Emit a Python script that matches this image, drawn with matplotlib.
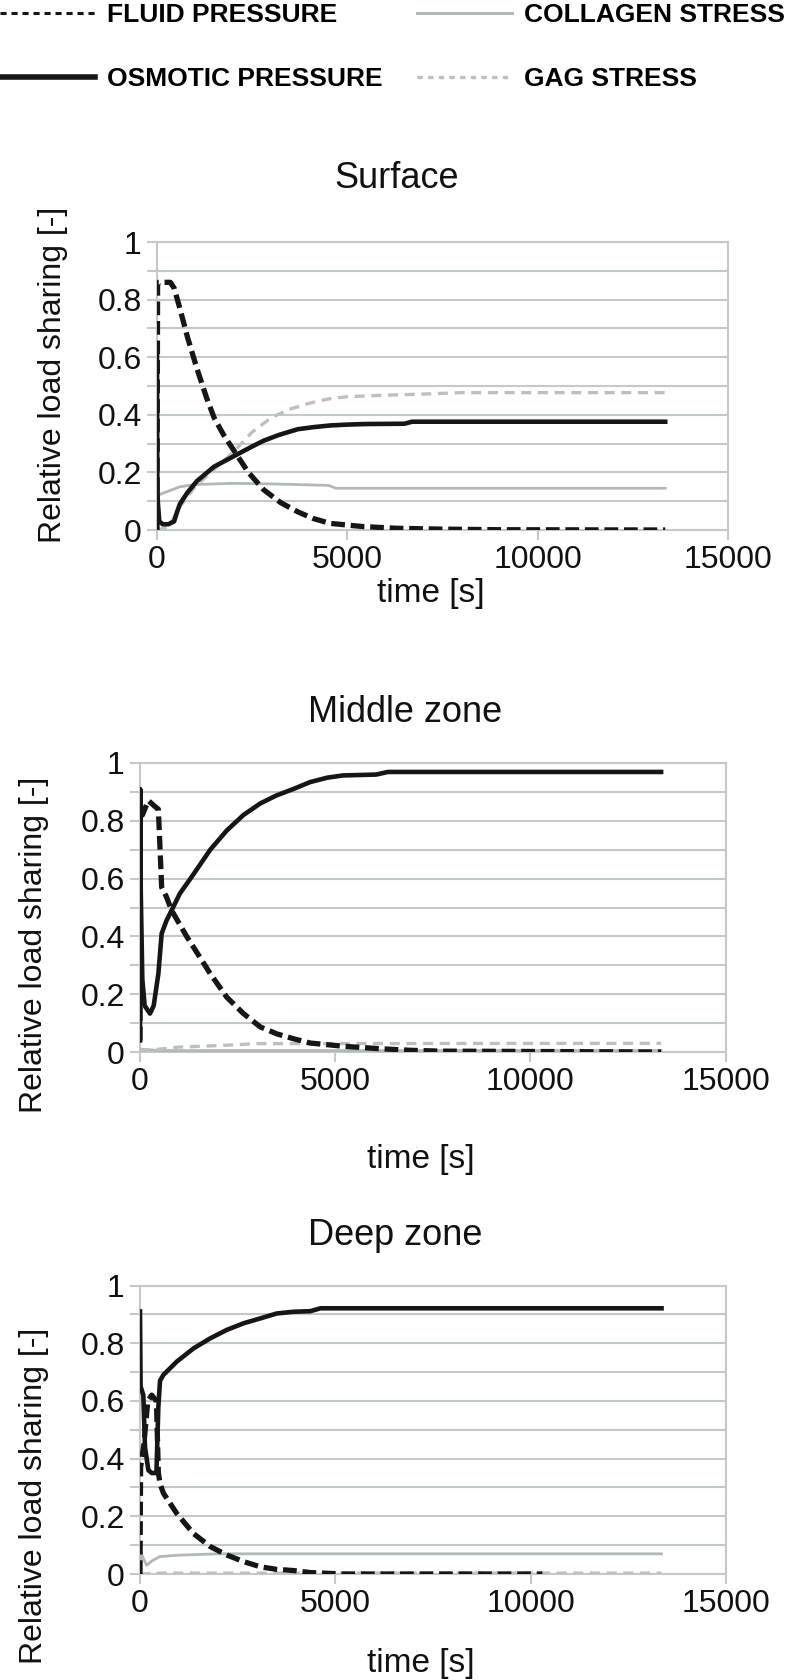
import matplotlib
matplotlib.use("Agg")
import matplotlib.pyplot as plt
from matplotlib.lines import Line2D

plt.rcParams["font.family"] = ["Liberation Sans", "DejaVu Sans"]

# ---- data (time in s, relative load share) ----
titles = ["Surface", "Middle zone", "Deep zone"]
series_names = ["FLUID PRESSURE", "OSMOTIC PRESSURE", "COLLAGEN STRESS", "GAG STRESS"]

surf_fluid_t = [0, 15, 40, 250, 350, 450, 600, 800, 1050, 1300, 1500, 1750, 2000, 2400, 2800, 3250, 3700, 4100, 4550, 5400, 6300, 7500, 9000, 13350]
surf_fluid_v = [0.0, 0.85, 0.86, 0.86, 0.86, 0.84, 0.77, 0.67, 0.56, 0.46, 0.39, 0.33, 0.28, 0.20, 0.14, 0.095, 0.063, 0.04, 0.023, 0.012, 0.006, 0.003, 0.001, 0.0]
surf_osm_t = [0, 8, 20, 60, 150, 300, 450, 520, 600, 800, 1050, 1500, 2000, 2500, 2800, 3200, 3700, 4100, 4550, 5000, 5500, 6500, 6700, 13350]
surf_osm_v = [0.62, 0.19, 0.10, 0.03, 0.02, 0.02, 0.03, 0.06, 0.09, 0.13, 0.17, 0.22, 0.255, 0.29, 0.31, 0.33, 0.35, 0.357, 0.363, 0.366, 0.368, 0.369, 0.376, 0.376]
surf_col_t = [0, 30, 100, 300, 600, 1000, 2000, 3000, 4500, 4700, 13350]
surf_col_v = [0.2, 0.12, 0.125, 0.135, 0.15, 0.158, 0.162, 0.16, 0.155, 0.145, 0.145]
surf_gag_t = [0, 300, 600, 1000, 1500, 2000, 2500, 3000, 3500, 4000, 4500, 5000, 6000, 7000, 8000, 13350]
surf_gag_v = [0.0, 0.01, 0.08, 0.15, 0.21, 0.27, 0.34, 0.39, 0.42, 0.44, 0.455, 0.463, 0.468, 0.472, 0.477, 0.477]

mid_fluid_t = [0, 10, 60, 213, 380, 470, 555, 680, 810, 1195, 1370, 1800, 2220, 2650, 3080, 3500, 3930, 4360, 5200, 6070, 6900, 7700, 13350]
mid_fluid_v = [0.04, 0.84, 0.82, 0.87, 0.85, 0.84, 0.57, 0.536, 0.49, 0.40, 0.363, 0.271, 0.19, 0.133, 0.087, 0.063, 0.046, 0.031, 0.02, 0.012, 0.006, 0.003, 0.0]
mid_osm_t = [0, 5, 20, 60, 120, 256, 350, 470, 555, 680, 810, 1020, 1370, 1800, 2220, 2650, 3080, 3500, 3930, 4360, 4790, 5200, 6050, 6350, 13350]
mid_osm_v = [0.04, 0.91, 0.55, 0.25, 0.16, 0.133, 0.16, 0.27, 0.41, 0.455, 0.49, 0.548, 0.615, 0.70, 0.766, 0.82, 0.86, 0.888, 0.91, 0.934, 0.949, 0.957, 0.96, 0.969, 0.969]
mid_col_t = [0, 500, 13350]
mid_col_v = [0.01, 0.005, 0.005]
mid_gag_t = [0, 500, 1000, 2000, 3000, 13350]
mid_gag_v = [0.005, 0.01, 0.017, 0.022, 0.029, 0.03]

deep_fluid_t = [0, 15, 100, 200, 300, 420, 470, 520, 600, 940, 1370, 1800, 2220, 2650, 3080, 3500, 3930, 4360, 5200, 10300]
deep_fluid_v = [0.0, 0.37, 0.45, 0.6, 0.62, 0.6, 0.35, 0.31, 0.28, 0.21, 0.14, 0.095, 0.066, 0.043, 0.025, 0.016, 0.012, 0.005, 0.0, 0.0]
deep_osm_t = [0, 15, 85, 128, 214, 300, 420, 470, 513, 598, 940, 1370, 1800, 2220, 2650, 3080, 3500, 3930, 4360, 4620, 13350]
deep_osm_v = [0.91, 0.65, 0.62, 0.44, 0.36, 0.35, 0.35, 0.58, 0.67, 0.69, 0.736, 0.782, 0.817, 0.846, 0.869, 0.886, 0.903, 0.909, 0.911, 0.921, 0.921]
deep_col_t = [0, 20, 100, 170, 300, 500, 940, 2000, 13350]
deep_col_v = [0.0, 0.075, 0.05, 0.03, 0.045, 0.06, 0.065, 0.07, 0.07]
deep_gag_t = [0, 500, 13350]
deep_gag_v = [0.0, 0.003, 0.003]

x_ticks = [0, 5000, 10000, 15000]
y_ticks = [0, 0.2, 0.4, 0.6, 0.8, 1.0]
y_ticklabels = ["0", "0.2", "0.4", "0.6", "0.8", "1"]

panels = [
    (surf_fluid_t, surf_fluid_v, surf_osm_t, surf_osm_v, surf_col_t, surf_col_v, surf_gag_t, surf_gag_v),
    (mid_fluid_t, mid_fluid_v, mid_osm_t, mid_osm_v, mid_col_t, mid_col_v, mid_gag_t, mid_gag_v),
    (deep_fluid_t, deep_fluid_v, deep_osm_t, deep_osm_v, deep_col_t, deep_col_v, deep_gag_t, deep_gag_v),
]

# ---- layout (pixels of the 796x1680 canvas) ----
W, H = 796, 1680
boxes = [(157, 728, 242, 530), (140, 725.5, 763, 1052), (140, 726, 1285.5, 1574)]
title_pos = [(0.419, 1.222), (0.453, 1.175), (0.435, 1.175)]
ylab_pos = [(-0.156, 0.54), (-0.155, 0.37), (-0.155, 0.27)]
xlab_pos = [(0.48, -0.165), (0.48, -0.32), (0.48, -0.255)]

BLACK = "#161616"
GRID = "#c3cac9"
COLL = "#b2b8b7"
GAG = "#bcc1c0"

fig = plt.figure(figsize=(W / 100, H / 100), dpi=100)

for i, (ft, fv, ot, ov, ct, cv, gt, gv) in enumerate(panels):
    l, r, t, b = boxes[i]
    ax = fig.add_axes([l / W, 1 - b / H, (r - l) / W, (b - t) / H])
    ax.plot(ct, cv, color=COLL, lw=2.0, zorder=3)
    ax.plot(gt, gv, color=GAG, lw=2.4, ls=(0, (3.0, 2.0)), zorder=3)
    ax.plot(ot, ov, color=BLACK, lw=3.3, zorder=4)
    ax.plot(ft, fv, color=BLACK, lw=3.8, ls=(0, (2.6, 1.1)), zorder=5)

    ax.set_xlim(0, 15000)
    ax.set_ylim(0, 1)
    ax.set_xticks(x_ticks)
    ax.set_xticklabels([str(v) for v in x_ticks])
    ax.set_yticks(y_ticks)
    ax.set_yticklabels(y_ticklabels)
    ax.set_yticks([0.1, 0.3, 0.5, 0.7, 0.9], minor=True)
    ax.grid(axis="y", which="both", color=GRID, lw=1.5)
    ax.set_axisbelow(True)
    for s in ax.spines.values():
        s.set_color(GRID)
        s.set_linewidth(1.5)
    ax.tick_params(axis="both", which="both", color=GRID, width=1.5, length=7,
                   labelsize=23, labelcolor="#111111", pad=4)

    ax.set_title(titles[i], x=title_pos[i][0], y=title_pos[i][1], pad=0,
                 fontsize=26, va="center", color="#111111")
    ax.set_ylabel("Relative load sharing [-]", fontsize=23, color="#111111")
    ax.yaxis.set_label_coords(*ylab_pos[i])
    ax.set_xlabel("time [s]", fontsize=24, color="#111111")
    ax.xaxis.set_label_coords(*xlab_pos[i])

# ---- legend at the top ----
handles = [
    Line2D([], [], color=BLACK, lw=2.2, ls=(0, (2.0, 1.6))),
    Line2D([], [], color=BLACK, lw=4.0),
    Line2D([], [], color=COLL, lw=2.2),
    Line2D([], [], color=GAG, lw=2.4, ls=(0, (1.6, 1.6))),
]
fig.legend(handles, series_names, loc="upper left", bbox_to_anchor=(0.0, 0.998),
           ncol=2, frameon=False, handlelength=3.6, handletextpad=0.45,
           columnspacing=1.3, labelspacing=1.5, borderpad=0, borderaxespad=0,
           prop={"weight": "bold", "size": 19})

fig.savefig("out.png", dpi=100)
